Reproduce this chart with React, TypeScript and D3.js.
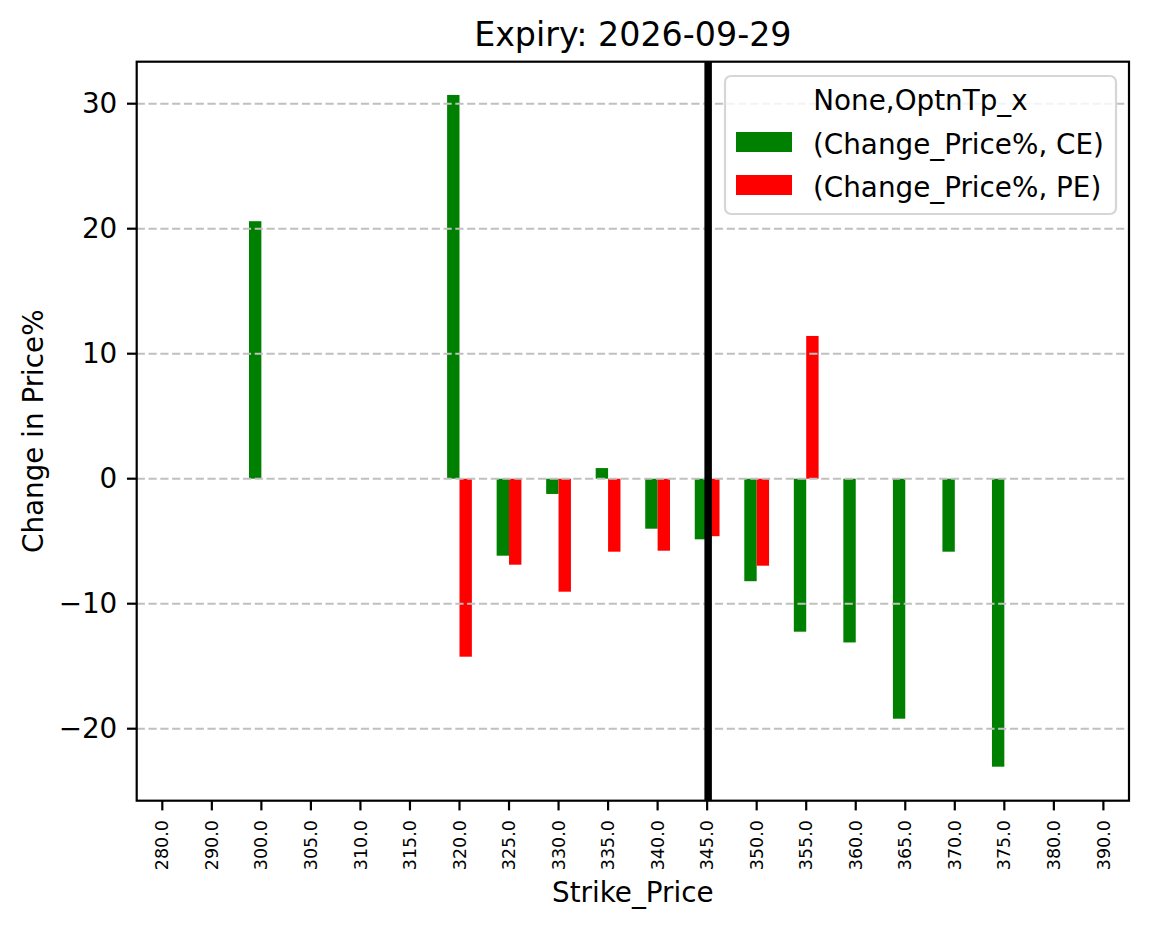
import { useRef, useEffect } from 'react';
import * as d3 from 'd3';

// Strike categories (x axis, categorical like pandas bar plot)
const strikes = ['280.0', '290.0', '300.0', '305.0', '310.0', '315.0', '320.0', '325.0', '330.0', '335.0',
  '340.0', '345.0', '350.0', '355.0', '360.0', '365.0', '370.0', '375.0', '380.0', '390.0'];

// Change_Price% per option type, null = no bar
const ceChange: (number | null)[] = [null, null, 20.6, null, null, null, 30.7, -6.16, -1.22, 0.85,
  -4.0, -4.85, -8.2, -12.24, -13.1, -19.2, -5.84, -23.04, null, null];
const peChange: (number | null)[] = [null, null, null, null, null, null, -14.24, -6.88, -9.04, -5.84,
  -5.76, -4.6, -6.96, 11.42, null, null, null, null, null, null];

const yTicks = [-20, -10, 0, 10, 20, 30];
const spotStrike = '345.0';

const seriesNames = ['(Change_Price%, CE)', '(Change_Price%, PE)'];
const seriesColors = ['green', 'red'];
const legendTitle = 'None,OptnTp_x';

const FONT = '"DejaVu Sans", sans-serif';

export default function App() {
  const svgRef = useRef<SVGSVGElement>(null);

  useEffect(() => {
    const svg = d3.select(svgRef.current);
    svg.selectAll('*').remove();

    const width = 1149;
    const height = 928;
    const left = 136.7, right = 1129, top = 61.7, bottom = 800.7;

    svg.attr('width', width).attr('height', height);
    svg.append('rect').attr('width', width).attr('height', height).attr('fill', 'white');

    const x = d3.scaleLinear().domain([-0.517, strikes.length - 1 + 0.517]).range([left, right]);
    const y = d3.scaleLinear().domain([-25.76, 33.36]).range([bottom, top]);
    const barW = x(0.25) - x(0);

    const g = svg.append('g');

    // Bars: CE left of the tick, PE right of it
    [ceChange, peChange].forEach((vals, s) => {
      const rows = vals.map((v, i) => ({ v, i })).filter((d) => d.v !== null) as { v: number; i: number }[];
      g.append('g')
        .selectAll('rect')
        .data(rows)
        .join('rect')
        .attr('x', (d) => x(d.i + (s === 0 ? -0.25 : 0)))
        .attr('width', barW)
        .attr('y', (d) => y(Math.max(0, d.v)))
        .attr('height', (d) => Math.abs(y(d.v) - y(0)))
        .attr('fill', seriesColors[s]);
    });

    // Horizontal dashed grid (drawn above the bars)
    g.append('g')
      .selectAll('line')
      .data(yTicks)
      .join('line')
      .attr('x1', left)
      .attr('x2', right)
      .attr('y1', (d) => y(d))
      .attr('y2', (d) => y(d))
      .attr('stroke', '#c0c0c0')
      .attr('stroke-width', 2)
      .attr('stroke-dasharray', '8.2,3.6');

    // Spot line
    const spotX = x(strikes.indexOf(spotStrike)) + 1;
    g.append('line')
      .attr('x1', spotX).attr('x2', spotX)
      .attr('y1', top).attr('y2', bottom)
      .attr('stroke', 'black')
      .attr('stroke-width', 7.5);

    // Frame
    g.append('rect')
      .attr('x', left).attr('y', top)
      .attr('width', right - left).attr('height', bottom - top)
      .attr('fill', 'none')
      .attr('stroke', 'black')
      .attr('stroke-width', 2.2);

    // X axis ticks + rotated labels
    const xt = g.append('g');
    strikes.forEach((s, i) => {
      const px = x(i);
      xt.append('line')
        .attr('x1', px).attr('x2', px)
        .attr('y1', bottom).attr('y2', bottom + 9.7)
        .attr('stroke', 'black').attr('stroke-width', 2.2);
      xt.append('text')
        .attr('transform', `translate(${px},${bottom + 19.4}) rotate(-90)`)
        .attr('text-anchor', 'end')
        .attr('dy', '0.35em')
        .attr('font-family', FONT)
        .attr('font-size', 17.5)
        .text(s);
    });

    // Y axis ticks + labels
    const yt = g.append('g');
    yTicks.forEach((t) => {
      yt.append('line')
        .attr('x1', left - 9.7).attr('x2', left)
        .attr('y1', y(t)).attr('y2', y(t))
        .attr('stroke', 'black').attr('stroke-width', 2.2);
      yt.append('text')
        .attr('x', left - 19.4)
        .attr('y', y(t))
        .attr('dy', '0.35em')
        .attr('text-anchor', 'end')
        .attr('font-family', FONT)
        .attr('font-size', 27.8)
        .text(t < 0 ? `\u2212${Math.abs(t)}` : `${t}`);
    });

    // Title & axis labels
    g.append('text')
      .attr('x', (left + right) / 2).attr('y', 46)
      .attr('text-anchor', 'middle')
      .attr('font-family', FONT).attr('font-size', 33.3)
      .text('Expiry: 2026-09-29');

    g.append('text')
      .attr('x', (left + right) / 2).attr('y', 902)
      .attr('text-anchor', 'middle')
      .attr('font-family', FONT).attr('font-size', 27.8)
      .text('Strike_Price');

    g.append('text')
      .attr('transform', `translate(42.5,${(top + bottom) / 2}) rotate(-90)`)
      .attr('text-anchor', 'middle')
      .attr('font-family', FONT).attr('font-size', 27.8)
      .text('Change in Price%');

    // Legend
    const lg = g.append('g');
    lg.append('rect')
      .attr('x', 725).attr('y', 76)
      .attr('width', 391).attr('height', 138)
      .attr('rx', 6)
      .attr('fill', 'white').attr('fill-opacity', 0.8)
      .attr('stroke', '#d6d6d6').attr('stroke-width', 2.2);
    lg.append('text')
      .attr('x', 920.5).attr('y', 110)
      .attr('text-anchor', 'middle')
      .attr('font-family', FONT).attr('font-size', 27.8)
      .text(legendTitle);
    seriesNames.forEach((name, i) => {
      const rowY = 132 + i * 43;
      lg.append('rect')
        .attr('x', 736).attr('y', rowY)
        .attr('width', 56).attr('height', 20)
        .attr('fill', seriesColors[i]);
      lg.append('text')
        .attr('x', 813).attr('y', rowY + 22)
        .attr('font-family', FONT).attr('font-size', 27.8)
        .text(name);
    });
  }, []);

  return (
    <div style={{ position: 'absolute', top: 0, left: 0 }}>
      <svg ref={svgRef} style={{ display: 'block' }} />
    </div>
  );
}
